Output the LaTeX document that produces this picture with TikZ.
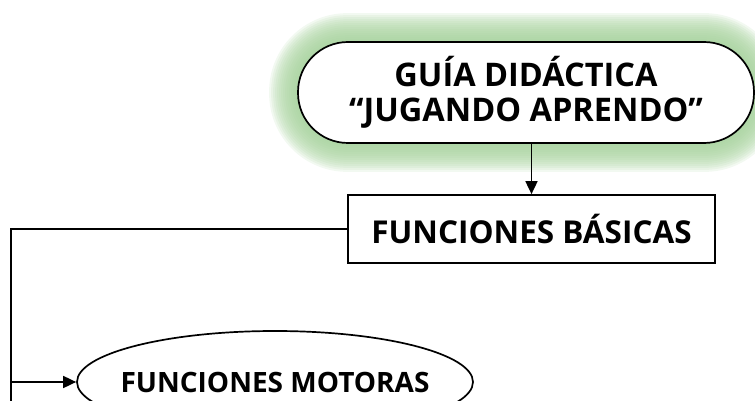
\documentclass[tikz,border=0pt]{standalone}
\usepackage{fontspec}
\setmainfont{Open Sans}
\usetikzlibrary{arrows.meta,backgrounds,shapes.geometric}
\definecolor{glowgreen}{RGB}{166,210,156}
\begin{document}
\begin{tikzpicture}[x=1pt, y=1pt, line width=1.7pt,
    guia/.style={draw, fill=white, rounded corners=50pt, minimum width=456pt, minimum height=101pt,
        align=center, font=\fontsize{32.5}{35.5}\selectfont\bfseries},
    caja/.style={draw, fill=white, minimum width=367pt, minimum height=68pt,
        font=\fontsize{31.5}{36}\selectfont\bfseries},
    ovalo/.style={draw, ellipse, minimum width=396pt, minimum height=102pt, inner sep=0pt},
    textoovalo/.style={font=\fontsize{28}{36}\selectfont\bfseries},
    flecha/.style={-{Triangle[length=13pt, width=12pt]}}]
    \clip (0, 0) rectangle (755, -401);
        \node[guia] (guia) at (526, -92.5) {GUÍA DIDÁCTICA\\“JUGANDO APRENDO”};
        \node[caja] (basicas) at (531.5, -229) {FUNCIONES BÁSICAS};
        \node[ovalo, label={[textoovalo]center:FUNCIONES MOTORAS}] (motoras) at (275, -382) {};
        \coordinate (esquina) at (11, -229);
        \coordinate (fin) at (11, -410);
        % resplandor verde
        \begin{scope}[on background layer]
            \foreach \e in {2, 4, ..., 28}
                \fill[glowgreen, opacity=0.14, rounded corners=50pt + \e pt]
                    ([shift={(-\e pt, \e pt)}]guia.north west) rectangle ([shift={(\e pt, -\e pt)}]guia.south east);
        \end{scope}
        \draw[flecha] (guia.south -| basicas.north) -- (basicas.north);
        \draw (basicas.west) -- (esquina) -- (fin);
        \draw[flecha] (esquina |- motoras.west) -- (motoras.west);
    \end{tikzpicture}
\end{document}
